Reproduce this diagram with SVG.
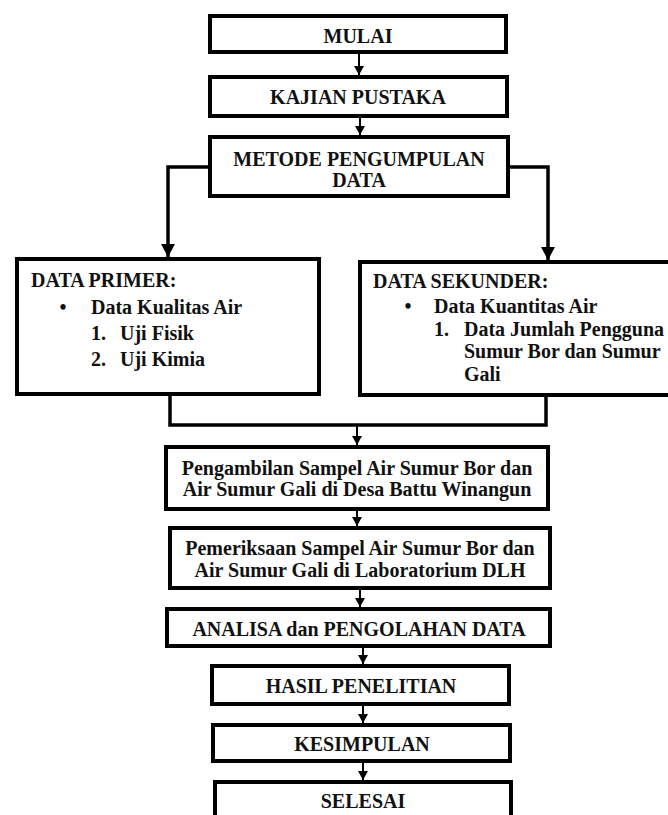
<svg xmlns="http://www.w3.org/2000/svg" width="668" height="815" viewBox="0 0 668 815">
<style>
.box{fill:#fff;stroke:#000;stroke-width:4}
text{font-family:'Liberation Serif','Times New Roman',serif;font-weight:700;font-size:20px;fill:#111}
.c{text-anchor:middle}
.ln{fill:none;stroke:#000;stroke-width:2}
.br{fill:none;stroke:#000;stroke-width:3.5}
</style>
<defs>
<marker id="a" markerUnits="userSpaceOnUse" markerWidth="10" markerHeight="10" refX="9" refY="5" orient="auto">
<path d="M0,0 L9,5 L0,10 Z" fill="#000"/>
</marker>
<marker id="b" markerUnits="userSpaceOnUse" markerWidth="14" markerHeight="14" refX="13" refY="7" orient="auto">
<path d="M0,0 L13,7 L0,14 Z" fill="#000"/>
</marker>
</defs>
<rect width="668" height="815" fill="#fff"/>
<g id="connectors">
<line class="ln" x1="359" y1="54" x2="359" y2="75" marker-end="url(#a)"/>
<line class="ln" x1="360" y1="118" x2="360" y2="135" marker-end="url(#a)"/>
<polyline class="br" points="208,167 168,167 168,257" marker-end="url(#b)"/>
<polyline class="br" points="510,167 548,167 548,260" marker-end="url(#b)"/>
<polyline class="br" points="170,396 170,425 546,425 546,397"/>
<line class="ln" x1="357" y1="425" x2="357" y2="445" marker-end="url(#a)"/>
<line class="ln" x1="357" y1="511" x2="357" y2="526" marker-end="url(#a)"/>
<line class="ln" x1="360" y1="590" x2="360" y2="607" marker-end="url(#a)"/>
<line class="ln" x1="363" y1="648" x2="363" y2="664" marker-end="url(#a)"/>
<line class="ln" x1="363" y1="706" x2="363" y2="723" marker-end="url(#a)"/>
<line class="ln" x1="363" y1="763" x2="363" y2="780" marker-end="url(#a)"/>
</g>
<g id="mulai">
<rect class="box" x="210" y="16" width="296" height="36"/>
<text class="c" x="358" y="43">MULAI</text>
</g>
<g id="kajian">
<rect class="box" x="210" y="77" width="297" height="39"/>
<text class="c" x="358" y="104">KAJIAN PUSTAKA</text>
</g>
<g id="metode">
<rect class="box" x="210" y="137" width="298" height="59"/>
<text class="c" x="359" y="166">METODE PENGUMPULAN</text>
<text class="c" x="359" y="187">DATA</text>
</g>
<g id="primer">
<rect class="box" x="17" y="259" width="302" height="135"/>
<text x="31" y="287">DATA PRIMER:</text>
<text class="c" x="63" y="314">•</text>
<text x="91" y="314">Data Kualitas Air</text>
<text x="91" y="340">1.</text>
<text x="120" y="340">Uji Fisik</text>
<text x="91" y="366">2.</text>
<text x="120" y="366">Uji Kimia</text>
</g>
<g id="sekunder">
<rect class="box" x="360" y="262" width="312" height="133"/>
<text x="373" y="288">DATA SEKUNDER:</text>
<text class="c" x="408" y="313">•</text>
<text x="434" y="313">Data Kuantitas Air</text>
<text x="434" y="336">1.</text>
<text x="464" y="336">Data Jumlah Pengguna</text>
<text x="464" y="358">Sumur Bor dan Sumur</text>
<text x="464" y="381">Gali</text>
</g>
<g id="pengambilan">
<rect class="box" x="166" y="447" width="382" height="62"/>
<text class="c" x="357" y="475">Pengambilan Sampel Air Sumur Bor dan</text>
<text class="c" x="357" y="496">Air Sumur Gali di Desa Battu Winangun</text>
</g>
<g id="pemeriksaan">
<rect class="box" x="170" y="528" width="380" height="60"/>
<text class="c" x="360" y="555">Pemeriksaan Sampel Air Sumur Bor dan</text>
<text class="c" x="360" y="577">Air Sumur Gali di Laboratorium DLH</text>
</g>
<g id="analisa">
<rect class="box" x="167" y="609" width="383" height="37"/>
<text class="c" x="359" y="636">ANALISA dan PENGOLAHAN DATA</text>
</g>
<g id="hasil">
<rect class="box" x="212" y="666" width="297" height="38"/>
<text class="c" x="361" y="693">HASIL PENELITIAN</text>
</g>
<g id="kesimpulan">
<rect class="box" x="213" y="725" width="297" height="36"/>
<text class="c" x="362" y="751">KESIMPULAN</text>
</g>
<g id="selesai">
<rect class="box" x="215" y="782" width="296" height="50"/>
<text class="c" x="363" y="808">SELESAI</text>
</g>
</svg>
